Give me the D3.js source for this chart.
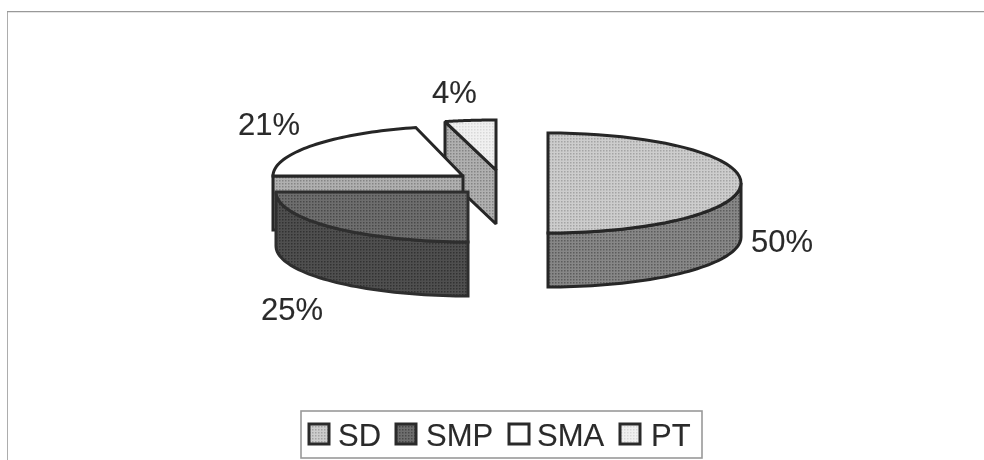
<!DOCTYPE html>
<html>
<head>
<meta charset="utf-8">
<style>
  html, body { margin: 0; padding: 0; background: #fff; }
  svg { display: block; }
  text { font-family: "Liberation Sans", Arial, sans-serif; fill: #2a2a2a; stroke: #2a2a2a; stroke-width: 0.12px; }
</style>
<script src="https://cdn.jsdelivr.net/npm/d3@7"></script>
</head>
<body>
<div id="container"></div>
<script>
const categories = ["SD", "SMP", "SMA", "PT"];
const values = [50, 25, 21, 4];

const width = 984, height = 460;
const ry = 50, depth = 54;

// every slice is pulled out of the pie by hand, like the original
const layout = {
  SD:  { cx: 548, cy: 183, rx: 193, labelX: 751, labelY: 252 },
  SMP: { cx: 468, cy: 192, rx: 192, labelX: 261, labelY: 320 },
  SMA: { cx: 463, cy: 176, rx: 190, labelX: 238, labelY: 135 },
  PT:  { cx: 496, cy: 170, rx: 205, labelX: 432, labelY: 103 }
};
const shades = {
  SD:  { top: ["#cdcdcd", "#a4a4a4"], side: ["#878787", "#5c5c5c"], stroke: "#262626" },
  SMP: { top: ["#6e6e6e", "#484848"], side: ["#505050", "#303030"], stroke: "#2e2e2e" },
  SMA: { top: ["#ffffff", "#ffffff"], side: ["#b0b0b0", "#848484"], stroke: "#262626" },
  PT:  { top: ["#f0f0f0", "#d8d8d8"], side: ["#b0b0b0", "#848484"], stroke: "#262626" }
};
const legendPos = [
  { box: 309, text: 338 },
  { box: 396, text: 426 },
  { box: 509, text: 537 },
  { box: 620, text: 651 }
];

const svg = d3.select("#container")
  .append("svg")
  .attr("width", width)
  .attr("height", height);

const defs = svg.append("defs");

defs.append("filter")
  .attr("id", "scan")
  .attr("x", 0).attr("y", 0).attr("width", 1).attr("height", 1)
  .append("feGaussianBlur")
  .attr("stdDeviation", 0.6);

// halftone look of the scan
function halftone(id, pair) {
  const p = defs.append("pattern")
    .attr("id", id)
    .attr("width", 3)
    .attr("height", 3)
    .attr("patternUnits", "userSpaceOnUse");
  p.append("rect").attr("width", 3).attr("height", 3).attr("fill", pair[0]);
  p.append("rect").attr("width", 1.5).attr("height", 1.5).attr("fill", pair[1]);
  return `url(#${id})`;
}

const root = svg.append("g").attr("filter", "url(#scan)");

// outer frame: top and left only reach the crop edge
root.append("path")
  .attr("d", `M7,${height}V11.5H${width}`)
  .attr("fill", "none")
  .attr("stroke", "#999")
  .attr("stroke-width", 1.6);

const pie = d3.pie().sort(null).value(d => d.value);
const slices = pie(categories.map((name, i) => ({ name, value: values[i] })));

function rim(d, a) {
  const l = layout[d.data.name];
  return [l.cx + l.rx * Math.sin(a), l.cy - ry * Math.cos(a)];
}

function arcPoints(d, a0, a1, dy) {
  const n = 48;
  return d3.range(n + 1).map(i => {
    const p = rim(d, a0 + (a1 - a0) * i / n);
    return [p[0], p[1] + dy];
  });
}

const line = d3.line();

function drawSlice(d) {
  const l = layout[d.data.name];
  const s = shades[d.data.name];
  const topFill = halftone("top" + d.data.name, s.top);
  const sideFill = halftone("side" + d.data.name, s.side);
  const g = root.append("g")
    .attr("stroke", s.stroke)
    .attr("stroke-width", 3)
    .attr("stroke-linejoin", "miter")
    .attr("stroke-miterlimit", 1.5);

  // cut face at the start angle, when it looks at the viewer
  if (Math.sin(d.startAngle) < -1e-6) {
    const p = rim(d, d.startAngle);
    g.append("path")
      .attr("d", line([[l.cx, l.cy], p, [p[0], p[1] + depth], [l.cx, l.cy + depth]]) + "Z")
      .attr("fill", sideFill);
  }
  // outer wall, front half of the ellipse only
  const a0 = Math.max(d.startAngle, Math.PI / 2);
  const a1 = Math.min(d.endAngle, 3 * Math.PI / 2);
  if (a1 > a0) {
    const front = arcPoints(d, a0, a1, 0);
    const back = arcPoints(d, a0, a1, depth).reverse();
    g.append("path")
      .attr("d", line(front.concat(back)) + "Z")
      .attr("fill", sideFill);
  }
  // top face
  const top = [[l.cx, l.cy]].concat(arcPoints(d, d.startAngle, d.endAngle, 0));
  g.append("path")
    .attr("d", line(top) + "Z")
    .attr("fill", topFill);
}

// back to front
["PT", "SMA", "SMP", "SD"].forEach(name => {
  drawSlice(slices.find(s => s.data.name === name));
});

// percentage labels
slices.forEach(d => {
  const l = layout[d.data.name];
  root.append("text")
    .attr("x", l.labelX)
    .attr("y", l.labelY)
    .attr("font-size", 31)
    .text(d.data.value + "%");
});

// legend
root.append("rect")
  .attr("x", 301)
  .attr("y", 411)
  .attr("width", 401)
  .attr("height", 47)
  .attr("fill", "none")
  .attr("stroke", "#999")
  .attr("stroke-width", 1.6);

categories.forEach((name, i) => {
  root.append("rect")
    .attr("x", legendPos[i].box)
    .attr("y", 424)
    .attr("width", 20)
    .attr("height", 20)
    .attr("fill", `url(#top${name})`)
    .attr("stroke", "#2a2a2a")
    .attr("stroke-width", 3);

  root.append("text")
    .attr("x", legendPos[i].text)
    .attr("y", 446)
    .attr("font-size", 31)
    .text(name);
});
</script>
</body>
</html>
